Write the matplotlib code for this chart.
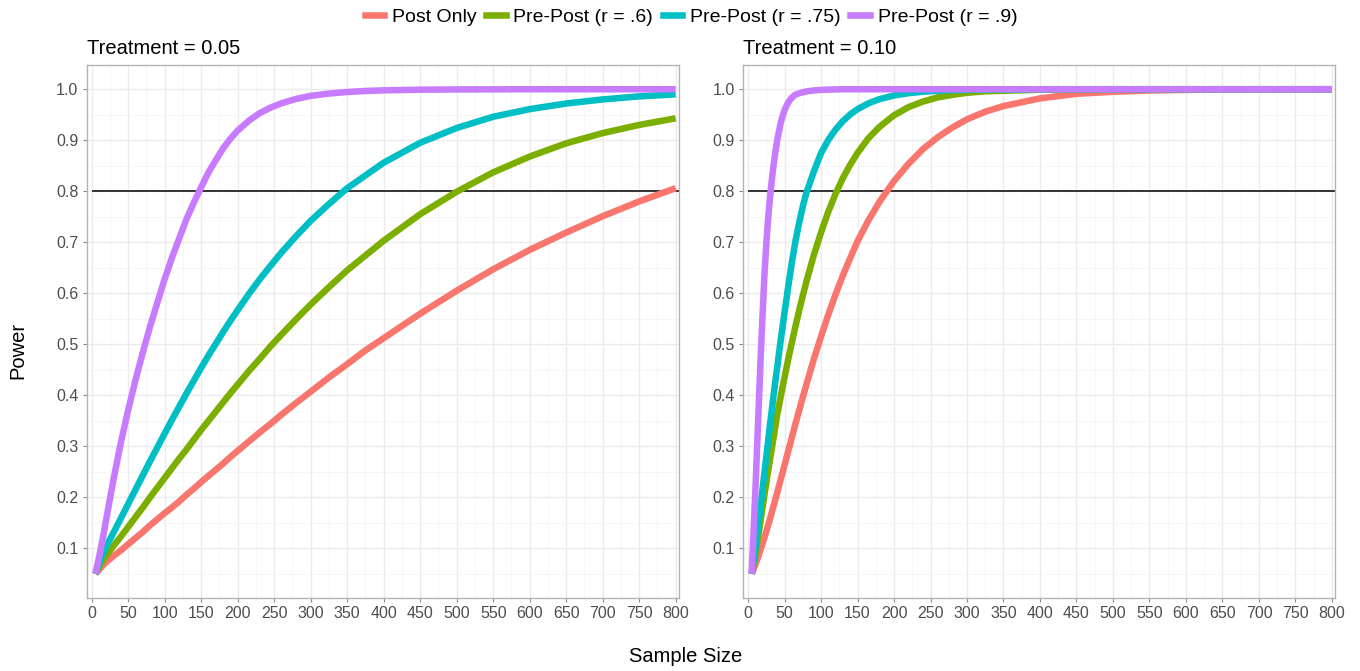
import matplotlib
matplotlib.use("Agg")
import matplotlib.pyplot as plt
from matplotlib.lines import Line2D
from matplotlib.ticker import MultipleLocator, FormatStrFormatter

plt.rcParams['font.family'] = ['Liberation Sans', 'DejaVu Sans']

# === DATA ===
SERIES = ["Post Only", "Pre-Post (r = .6)", "Pre-Post (r = .75)", "Pre-Post (r = .9)"]
COLORS = ["#F8766D", "#7CAE00", "#00BFC4", "#C77CFF"]
TARGET = 0.8

# Treatment = 0.05
N_LEFT = [5, 10, 15, 20, 30, 40, 50, 60, 70, 80, 90, 100, 110, 120, 130, 140, 150, 160,
          170, 180, 190, 200, 215, 230, 245, 260, 280, 300, 325, 350, 375, 400, 450,
          500, 550, 600, 650, 700, 750, 800]
post_05 = [0.050, 0.058, 0.066, 0.073, 0.085, 0.096, 0.108, 0.120, 0.132, 0.145, 0.157,
           0.169, 0.180, 0.192, 0.205, 0.217, 0.230, 0.242, 0.254, 0.266, 0.279, 0.291,
           0.309, 0.327, 0.344, 0.362, 0.385, 0.407, 0.435, 0.461, 0.488, 0.512, 0.560,
           0.605, 0.647, 0.685, 0.719, 0.751, 0.780, 0.806]
r60_05 = [0.050, 0.064, 0.076, 0.086, 0.105, 0.123, 0.142, 0.161, 0.180, 0.200, 0.219,
          0.238, 0.257, 0.276, 0.294, 0.313, 0.332, 0.350, 0.368, 0.386, 0.404, 0.421,
          0.447, 0.471, 0.496, 0.519, 0.549, 0.578, 0.612, 0.645, 0.674, 0.703, 0.755,
          0.799, 0.837, 0.868, 0.894, 0.914, 0.930, 0.943]
r75_05 = [0.050, 0.070, 0.088, 0.104, 0.131, 0.159, 0.187, 0.215, 0.243, 0.271, 0.298,
          0.325, 0.352, 0.378, 0.404, 0.429, 0.454, 0.478, 0.501, 0.524, 0.546, 0.567,
          0.598, 0.627, 0.654, 0.680, 0.712, 0.742, 0.775, 0.806, 0.831, 0.856, 0.895,
          0.924, 0.946, 0.961, 0.972, 0.980, 0.986, 0.990]
r90_05 = [0.050, 0.082, 0.118, 0.158, 0.236, 0.308, 0.371, 0.430, 0.484, 0.535, 0.582,
          0.628, 0.670, 0.708, 0.746, 0.778, 0.808, 0.837, 0.861, 0.884, 0.903, 0.919,
          0.938, 0.953, 0.964, 0.9725, 0.981, 0.987, 0.9915, 0.9946, 0.9965, 0.9978,
          0.9991, 0.9996, 0.9998, 1.000, 1.000, 1.000, 1.000, 1.000]

# Treatment = 0.10
N_RIGHT = [5, 7.5, 10, 12.5, 15, 17.5, 20, 22.5, 25, 27.5, 30, 32.5, 35, 37.5, 40, 45,
           50, 55, 60, 65, 70, 75, 80, 90, 100, 110, 120, 130, 140, 150, 165, 180, 200,
           220, 240, 260, 280, 300, 325, 350, 400, 450, 500, 550, 600, 700, 800]
post_10 = [0.050, 0.059, 0.068, 0.078, 0.088, 0.099, 0.110, 0.121, 0.133, 0.145, 0.157,
           0.170, 0.183, 0.196, 0.209, 0.236, 0.263, 0.290, 0.317, 0.344, 0.370, 0.396,
           0.421, 0.470, 0.515, 0.558, 0.598, 0.635, 0.669, 0.702, 0.743, 0.779, 0.820,
           0.854, 0.883, 0.906, 0.925, 0.941, 0.956, 0.967, 0.982, 0.991, 0.995, 0.9975,
           0.9987, 0.9997, 1.000]
r60_10 = [0.050, 0.068, 0.088, 0.110, 0.133, 0.157, 0.181, 0.205, 0.228, 0.250, 0.273,
          0.295, 0.317, 0.339, 0.362, 0.399, 0.435, 0.470, 0.503, 0.535, 0.566, 0.595,
          0.623, 0.674, 0.719, 0.760, 0.795, 0.826, 0.852, 0.875, 0.904, 0.926, 0.949,
          0.965, 0.976, 0.984, 0.989, 0.993, 0.996, 0.997, 0.999, 0.9997, 1.000, 1.000,
          1.000, 1.000, 1.000]
r75_10 = [0.050, 0.075, 0.100, 0.128, 0.157, 0.187, 0.217, 0.248, 0.279, 0.310, 0.340,
          0.370, 0.400, 0.428, 0.455, 0.510, 0.562, 0.612, 0.660, 0.702, 0.738, 0.770,
          0.797, 0.838, 0.8745, 0.9006, 0.921, 0.9376, 0.9506, 0.9609, 0.9724, 0.9805,
          0.9878, 0.9923, 0.9952, 0.997, 0.9981, 0.9988, 0.9993, 0.9996, 1.000, 1.000,
          1.000, 1.000, 1.000, 1.000, 1.000]
r90_10 = [0.050, 0.130, 0.210, 0.300, 0.390, 0.480, 0.560, 0.635, 0.695, 0.745, 0.786,
          0.820, 0.851, 0.877, 0.900, 0.936, 0.959, 0.974, 0.9835, 0.9895, 0.992, 0.994,
          0.9957, 0.9976, 0.9987, 0.9993, 0.9996, 1.000, 1.000, 1.000, 1.000, 1.000,
          1.000, 1.000, 1.000, 1.000, 1.000, 1.000, 1.000, 1.000, 1.000, 1.000, 1.000,
          1.000, 1.000, 1.000, 1.000]

PANELS = [
    ("Treatment = 0.05", N_LEFT, [post_05, r60_05, r75_05, r90_05]),
    ("Treatment = 0.10", N_RIGHT, [post_10, r60_10, r75_10, r90_10]),
]

# === STYLE ===
W, H = 1360, 671
XLIM = (-7, 804)
YLIM = (0.0025, 1.0475)
LW = 4.7


def style_panel(ax, title):
    ax.set_xlim(*XLIM)
    ax.set_ylim(*YLIM)
    ax.xaxis.set_major_locator(MultipleLocator(50))
    ax.xaxis.set_minor_locator(MultipleLocator(25))
    ax.yaxis.set_major_locator(MultipleLocator(0.1))
    ax.yaxis.set_minor_locator(MultipleLocator(0.05))
    ax.yaxis.set_major_formatter(FormatStrFormatter('%.1f'))
    ax.grid(True, which='major', color='#EBEBEB', linewidth=1.0, zorder=0)
    ax.grid(True, which='minor', color='#F5F5F5', linewidth=0.7, zorder=0)
    ax.set_axisbelow(True)
    for s in ax.spines.values():
        s.set_color('#B3B3B3')
        s.set_linewidth(1.0)
    ax.tick_params(which='major', length=3, width=0.8, color='#8A8A8A',
                   labelsize=11.5, labelcolor='#4D4D4D', pad=3)
    ax.tick_params(which='minor', length=0)
    ax.set_title(title, loc='left', fontsize=14.5, pad=8, color='black')


fig = plt.figure(figsize=(W / 100, H / 100), dpi=100)
ax_left = fig.add_axes([86.6 / W, 73 / H, 592 / W, 533 / H])
ax_right = fig.add_axes([742.9 / W, 73 / H, 592 / W, 533 / H])

for ax, (title, n, series) in zip([ax_left, ax_right], PANELS):
    style_panel(ax, title)
    ax.hlines(TARGET, 0, XLIM[1] + 20, color='#333333', linewidth=1.4, zorder=2)
    for vals, col in zip(series, COLORS):
        ax.plot(n, vals, color=col, linewidth=LW, solid_joinstyle='round',
                solid_capstyle='butt', zorder=3)

handles = [Line2D([], [], color=c, linewidth=LW) for c in COLORS]
fig.legend(handles, SERIES, loc='center', bbox_to_anchor=(691 / W, 1 - 17 / H),
           ncol=4, frameon=False, fontsize=14, handlelength=1.0,
           handletextpad=0.4, columnspacing=0.5)

fig.text(686 / W, 1 - 657 / H, "Sample Size", ha='center', va='center', fontsize=14.5)
fig.text(18 / W, 1 - 350 / H, "Power", ha='center', va='center', rotation=90, fontsize=14.5)

fig.savefig("out.png", dpi=100)
